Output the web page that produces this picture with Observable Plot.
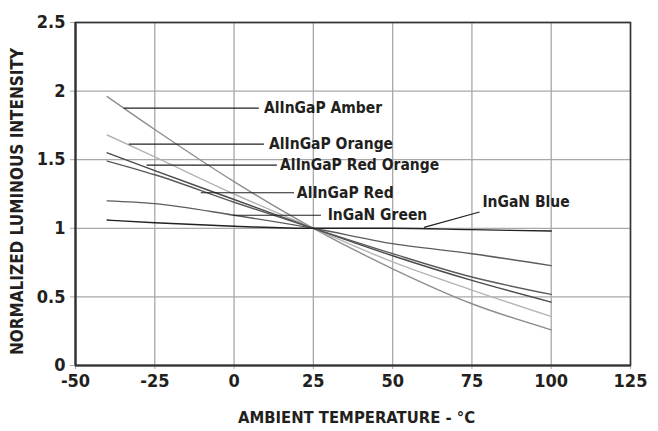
<!DOCTYPE html>
<html>
<head>
<meta charset="utf-8">
<script src="https://cdn.jsdelivr.net/npm/d3@7"></script>
<script src="https://cdn.jsdelivr.net/npm/@observablehq/plot@0.6"></script>
<style>
  html, body { margin: 0; padding: 0; background: #fff; }
  #chart svg { display: block; }
</style>
</head>
<body>
<div id="chart"></div>
<script>
// Temperatures (°C) at which curves were read
const temps = [-40, -25, 0, 25, 50, 75, 100];

// Series names
const series = ["AlInGaP Amber", "AlInGaP Orange", "AlInGaP Red Orange", "AlInGaP Red", "InGaN Green", "InGaN Blue"];

// Normalized luminous intensity values per series
const amber     = [1.96, 1.72, 1.34, 1.00, 0.705, 0.45, 0.26];
const orange    = [1.68, 1.52, 1.25, 1.00, 0.755, 0.55, 0.357];
const redOrange = [1.55, 1.42, 1.21, 1.00, 0.80, 0.62, 0.462];
const red       = [1.49, 1.39, 1.19, 1.00, 0.815, 0.645, 0.518];
const green     = [1.20, 1.18, 1.095, 1.00, 0.888, 0.815, 0.728];
const blue      = [1.06, 1.04, 1.015, 1.00, 1.00, 0.99, 0.98];

const seriesValues = [amber, orange, redOrange, red, green, blue];
const seriesColors = ["#8e8e8e", "#b4b4b4", "#4a4a4a", "#5a5a5a", "#5c5c5c", "#222222"];

// Tick values
const xTicks = [-50, -25, 0, 25, 50, 75, 100, 125];
const yTicks = [0, 0.5, 1, 1.5, 2, 2.5];

// Axis titles
const yTitle = "NORMALIZED LUMINOUS INTENSITY";
const xTitle = "AMBIENT TEMPERATURE - °C";

// Callout labels (data coordinates): leader start, leader end, label position
const calloutX1 = [-34.8, -33.2, -27.6, -10.5, -0.4, 59.9];
const calloutY1 = [1.876, 1.613, 1.46, 1.259, 1.095, 1.007];
const calloutX2 = [7.8, 9.4, 13.5, 18.9, 27.4, 77.4];
const calloutY2 = [1.876, 1.613, 1.46, 1.259, 1.095, 1.119];
const labelX    = [9.4, 11.0, 14.5, 19.8, 29.5, 78.3];
const labelY    = [1.876, 1.613, 1.46, 1.259, 1.095, 1.19];

const rows = [];
series.forEach((s, i) => temps.forEach((t, j) => rows.push({series: s, t, v: seriesValues[i][j]})));
const callouts = series.map((s, i) => ({
  series: s, x1: calloutX1[i], y1: calloutY1[i], x2: calloutX2[i], y2: calloutY2[i], lx: labelX[i], ly: labelY[i]
}));

const font = "'DejaVu Sans Condensed', 'Liberation Sans Narrow', sans-serif";

const chart = Plot.plot({
  width: 658,
  height: 431,
  marginLeft: 75,
  marginRight: 28,
  marginTop: 22,
  marginBottom: 66,
  style: {fontFamily: font, fontWeight: "bold", fontSize: "18px", color: "#231f20", background: "#fff"},
  x: {domain: [-50, 125], ticks: xTicks},
  y: {domain: [0, 2.5], ticks: yTicks},
  color: {domain: series, range: seriesColors},
  marks: [
    Plot.gridX(xTicks, {stroke: "#a8a8a8", strokeOpacity: 1, strokeWidth: 1.3}),
    Plot.gridY(yTicks, {stroke: "#a8a8a8", strokeOpacity: 1, strokeWidth: 1.3}),
    Plot.axisX({ticks: xTicks, tickSize: 4, tickPadding: 5, tickFormat: d => String(d), label: null, stroke: "#a8a8a8", fontSize: 18}),
    Plot.axisY({ticks: yTicks, tickSize: 5, tickPadding: 5, tickFormat: d => String(d), label: null, stroke: "#a8a8a8", fontSize: 18}),
    Plot.frame({stroke: "#333", strokeWidth: 1.6}),
    Plot.ruleX([-50], {stroke: "#333", strokeWidth: 2.2}),
    Plot.ruleY([0], {stroke: "#333", strokeWidth: 2.2}),
    Plot.line(rows, {x: "t", y: "v", z: "series", stroke: "series", strokeWidth: 1.4, curve: "monotone-x"}),
    Plot.link(callouts, {x1: "x1", y1: "y1", x2: "x2", y2: "y2", stroke: "#231f20", strokeWidth: 1.2}),
    Plot.text(callouts, {x: "lx", y: "ly", text: "series", textAnchor: "start", fill: "#231f20", fontSize: 15.5, fontWeight: "bold"}),
    Plot.text([yTitle], {frameAnchor: "left", textAnchor: "middle", lineAnchor: "middle", rotate: -90, dx: -57.5, dy: 7.5, fill: "#231f20", fontSize: 17, fontWeight: "bold"}),
    Plot.text([xTitle], {frameAnchor: "bottom", textAnchor: "middle", lineAnchor: "middle", dx: 3.5, dy: 52.5, fill: "#231f20", fontSize: 16.5, fontWeight: "bold"})
  ]
});
document.getElementById("chart").appendChild(chart);
</script>
</body>
</html>
